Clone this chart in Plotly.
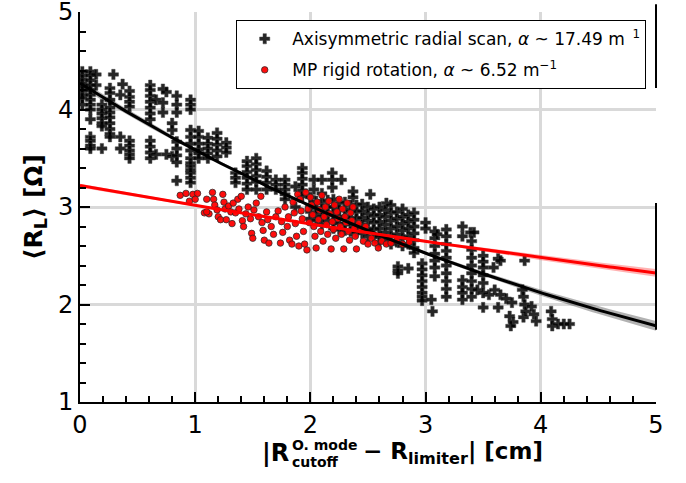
import numpy as np
import plotly.graph_objects as go

# Axisymmetric radial scan: points at x < 1 cm
scan_x_a = [0.02]*9 + [0.09]*14 + [0.14]*2 + [0.19]*7 + [0.26]*10 + [0.29] + [0.35]*3 + [0.37] \
    + [0.43]*9 + [0.61]*11 + [0.66]*2 + [0.72]*3 + [0.75]*2 + [0.80]*3 + [0.84]*8 + [0.96]*14
scan_y_a = [4.39, 4.35, 4.31, 4.27, 4.23, 4.19, 4.15, 4.12, 4.05,
            4.39, 4.35, 4.30, 4.25, 4.20, 4.15, 4.10, 4.05, 4.00, 3.90, 3.72, 3.68, 3.63, 3.60,
            4.36, 4.25,
            4.05, 4.00, 3.96, 3.91, 3.86, 3.83, 3.60,
            4.22, 4.17, 4.10, 4.02, 3.97, 3.92, 3.86, 3.80, 3.75, 3.72,
            4.36,
            4.15, 3.72, 3.60,
            4.26,
            4.19, 4.13, 4.08, 4.03, 3.68, 3.63, 3.58, 3.54, 3.50,
            4.25, 4.20, 4.14, 4.08, 4.02, 3.96, 3.90, 3.68, 3.62, 3.56, 3.50,
            4.10, 3.54,
            4.21, 4.07, 3.97,
            4.18, 3.54,
            3.86, 3.79, 3.52,
            4.14, 4.05, 3.97, 3.67, 3.60, 3.53, 3.46, 3.27,
            4.10, 4.05, 4.00, 3.79, 3.72, 3.65, 3.58, 3.50, 3.45, 3.42, 3.38, 3.35, 3.30, 3.25]

# Axisymmetric radial scan: points at 1 <= x < 2 cm
scan_x_b = [1.03]*6 + [1.11]*5 + [1.19]*5 + [1.27]*3 + [1.35]*3 + [1.45]*6 + [1.53]*6 \
    + [1.62]*4 + [1.70]*3 + [1.78]*5 + [1.87]*2 + [1.93]*6
scan_y_b = [3.78, 3.72, 3.65, 3.59, 3.55, 3.50,
            3.71, 3.65, 3.60, 3.55, 3.50,
            3.76, 3.70, 3.64, 3.58, 3.52,
            3.66, 3.61, 3.56,
            3.35, 3.30, 3.25,
            3.47, 3.42, 3.36, 3.30, 3.24, 3.18,
            3.50, 3.44, 3.38, 3.32, 3.26, 3.18,
            3.37, 3.31, 3.25, 3.18,
            3.28, 3.23, 3.18,
            3.28, 3.23, 3.18, 3.13, 3.08,
            3.21, 3.00,
            3.40, 3.35, 3.29, 3.23, 3.17, 3.11]

# Axisymmetric radial scan: points at 2 <= x < 3 cm
scan_x_c = [2.03, 2.03, 2.10, 2.10, 2.19, 2.19, 2.19, 2.27, 2.37, 2.37, 2.52, 2.66] \
    + [2.00]*4 + [2.05]*4 + [2.10]*4 + [2.15]*4 + [2.20]*5 + [2.25]*5 + [2.30]*5 + [2.35]*5 \
    + [2.40]*5 + [2.45]*5 + [2.50]*5 + [2.55]*5 + [2.60]*6 + [2.65]*5 + [2.70]*6 + [2.75]*5 \
    + [2.80]*6 + [2.85]*5 + [2.90]*7 + [2.76]*3 + [2.85] + [2.97]*8
scan_y_c = [3.28, 3.18, 3.28, 3.14, 3.35, 3.28, 3.20, 3.28, 3.16, 3.10, 3.13, 3.04,
            3.10, 3.02, 2.95, 2.88,
            3.06, 2.99, 2.92, 2.86,
            3.05, 2.98, 2.90, 2.82,
            3.07, 3.00, 2.93, 2.86,
            3.08, 3.00, 2.93, 2.85, 2.78,
            3.04, 2.97, 2.90, 2.83, 2.77,
            3.05, 2.98, 2.90, 2.83, 2.76,
            3.02, 2.96, 2.89, 2.82, 2.75,
            3.02, 2.95, 2.88, 2.80, 2.74,
            3.03, 2.96, 2.89, 2.82, 2.73,
            3.00, 2.93, 2.86, 2.78, 2.70,
            2.98, 2.91, 2.84, 2.77, 2.69,
            3.00, 2.92, 2.85, 2.78, 2.70, 2.64,
            2.97, 2.90, 2.82, 2.74, 2.66,
            3.02, 2.94, 2.86, 2.78, 2.70, 2.62,
            2.95, 2.88, 2.80, 2.72, 2.64,
            2.98, 2.90, 2.83, 2.76, 2.68, 2.60,
            2.92, 2.85, 2.78, 2.70, 2.62,
            2.94, 2.87, 2.80, 2.73, 2.66, 2.58, 2.53,
            2.39, 2.35, 2.32,
            2.37,
            2.42, 2.36, 2.30, 2.24, 2.18, 2.12, 2.08, 2.04]

# Axisymmetric radial scan: points at x >= 3 cm
scan_x_d = [3.00, 3.00, 3.05, 3.06] + [3.08]*7 + [3.10] + [3.18]*10 + [3.32]*6 + [3.39, 3.42] \
    + [3.40]*8 + [3.45, 3.55] + [3.50]*7 \
    + [3.59, 3.60, 3.63, 3.63, 3.65, 3.65, 3.70, 3.75, 3.73, 3.76, 3.74] \
    + [3.84, 3.85, 3.85, 3.86, 3.86, 3.87, 3.92, 3.94, 3.96, 4.09, 4.10, 4.10, 4.15, 4.20, 4.25]
scan_y_d = [2.84, 2.78, 2.05, 1.93,
            2.75, 2.68, 2.60, 2.52, 2.45, 2.38, 2.29,
            2.72,
            2.77, 2.70, 2.62, 2.55, 2.48, 2.40, 2.32, 2.24, 2.16, 2.08,
            2.80, 2.70, 2.25, 2.18, 2.12, 2.05,
            2.74, 2.74,
            2.65, 2.56, 2.48, 2.40, 2.32, 2.24, 2.16, 2.08,
            2.15, 2.10,
            2.50, 2.44, 2.38, 2.30, 2.22, 2.12, 1.97,
            2.38, 2.15, 2.47, 1.97, 2.45, 2.10, 2.06, 2.02, 1.88, 1.82, 1.78,
            2.15, 2.08, 1.87, 2.45, 2.00, 1.93, 1.98, 1.90, 1.83, 1.93, 1.85, 1.78, 1.80, 1.80, 1.80]

# MP rigid rotation points
rot_x_a = [0.87, 0.92, 0.95, 0.98, 1.02, 1.00, 1.08, 1.10, 1.12, 1.10, 1.15, 1.16, 1.17, 1.19,
           1.20, 1.22, 1.24, 1.25, 1.26, 1.27, 1.29, 1.31, 1.32, 1.33, 1.35,
           1.37, 1.38, 1.40, 1.41, 1.42, 1.44, 1.46, 1.48, 1.49, 1.50, 1.51, 1.53, 1.55, 1.57,
           1.58, 1.59, 1.60, 1.62, 1.63, 1.64, 1.66, 1.68, 1.70]
rot_y_a = [3.12, 3.14, 3.06, 3.13, 3.14, 3.08, 2.94, 3.08, 2.93, 2.95, 3.15, 3.08, 3.02, 2.97,
           2.90, 2.87, 3.13, 3.05, 2.98, 2.87, 3.01, 2.95, 2.83, 3.04, 2.94,
           3.08, 2.98, 3.11, 2.86, 2.80, 2.93, 3.00, 2.88, 2.73, 2.68, 2.97, 3.04, 2.90, 3.11,
           2.84, 2.76, 2.66, 2.95, 2.87, 2.63, 2.80, 2.72, 2.90]
rot_x_b = [1.72, 1.74, 1.75, 1.76, 1.78, 1.80, 1.81, 1.82, 1.84, 1.85, 1.86, 1.87, 1.88, 1.89,
           1.90, 1.91, 1.92, 1.93, 1.94, 1.95, 1.96, 1.97, 1.98, 1.99,
           2.00, 2.01, 2.02, 2.03, 2.04, 2.05, 2.06, 2.07, 2.08, 2.09, 2.10, 2.11, 2.12, 2.13,
           2.14, 2.15, 2.16, 2.17, 2.18, 2.19, 2.20, 2.21, 2.22, 2.23, 2.24]
rot_y_b = [2.96, 2.63, 2.85, 2.74, 3.00, 2.80, 2.90, 2.66, 2.62, 3.05, 2.94, 2.83, 2.70, 3.13,
           2.60, 3.08, 2.96, 2.88, 2.75, 2.62, 3.15, 2.56, 2.98, 2.84,
           3.10, 3.02, 2.92, 2.80, 2.70, 2.58, 3.05, 2.87, 2.97, 2.75, 3.12, 2.65, 2.90, 3.00,
           2.82, 2.72, 3.06, 2.93, 2.57, 2.85, 2.77, 3.02, 2.68, 2.95, 2.88]
rot_x_c = [2.25, 2.26, 2.27, 2.28, 2.29, 2.30, 2.31, 2.32, 2.33, 2.34, 2.35, 2.36, 2.37, 2.38,
           2.39, 2.40, 2.42, 2.44, 2.46, 2.48, 2.50, 2.53, 2.56, 2.59, 2.62, 2.66, 2.70, 2.75,
           2.80, 2.86]
rot_y_c = [3.08, 2.80, 2.72, 2.98, 2.57, 2.90, 2.84, 3.04, 2.75, 2.66, 2.94, 2.86, 3.00, 2.78,
           2.70, 2.57, 2.83, 2.76, 2.65, 2.80, 2.62, 2.68, 2.63, 2.58, 2.65, 2.62, 2.63, 2.66,
           2.62, 2.64]

# Exponential fits R = A * exp(-alpha * d), d in metres
scan_amp, scan_alpha = 4.27, 17.49
rot_amp, rot_alpha = 3.22, 6.52
# Confidence band half-widths of the fits
band_x = [0, 1, 2, 3, 4, 5]
scan_band = [0.035, 0.02, 0.012, 0.015, 0.03, 0.05]
rot_band = [0.02, 0.012, 0.008, 0.012, 0.025, 0.04]

FONT = "DejaVu Sans"

scan_x = scan_x_a + scan_x_b + scan_x_c + scan_x_d
scan_y = scan_y_a + scan_y_b + scan_y_c + scan_y_d
rot_x = rot_x_a + rot_x_b + rot_x_c
rot_y = rot_y_a + rot_y_b + rot_y_c

xf = np.linspace(0, 5, 201)
scan_fit = scan_amp * np.exp(-scan_alpha * xf / 100)
rot_fit = rot_amp * np.exp(-rot_alpha * xf / 100)
scan_hw = np.interp(xf, band_x, scan_band)
rot_hw = np.interp(xf, band_x, rot_band)

fig = go.Figure()

fig.add_trace(go.Scatter(
    x=scan_x, y=scan_y, mode="markers", legendgroup="scan",
    name="Axisymmetric radial scan, <i>α</i> ~ 17.49 m<sup>\u00a0\u00a01</sup>",
    marker=dict(symbol="cross", size=8.5, color="rgba(0,0,0,0.85)",
                line=dict(color="rgba(70,70,70,0.6)", width=0.8)),
))
fig.add_trace(go.Scatter(
    x=rot_x, y=rot_y, mode="markers", legendgroup="rot",
    name="MP rigid rotation, <i>α</i> ~ 6.52 m<sup>−1</sup>",
    marker=dict(symbol="circle", size=6.5, color="rgba(255,0,0,0.95)",
                line=dict(color="rgba(40,40,40,0.75)", width=1)),
))

for fit, hw, fill, col in [(scan_fit, scan_hw, "rgba(0,0,0,0.3)", "black"),
                           (rot_fit, rot_hw, "rgba(255,0,0,0.3)", "red")]:
    fig.add_trace(go.Scatter(x=np.concatenate([xf, xf[::-1]]),
                             y=np.concatenate([fit + hw, (fit - hw)[::-1]]),
                             fill="toself", fillcolor=fill, line=dict(width=0),
                             mode="lines", hoverinfo="skip", showlegend=False))
    fig.add_trace(go.Scatter(x=xf, y=fit, mode="lines", line=dict(color=col, width=3),
                             showlegend=False))

# right frame pieces
shapes = []
for y0, y1 in [(0.805, 1.02), (0.185, 0.51)]:
    shapes.append(dict(type="line", xref="paper", yref="paper", x0=1, x1=1, y0=y0, y1=y1,
                       line=dict(color="black", width=2)))

fig.update_layout(
    width=686, height=483,
    margin=dict(l=80, r=30, t=12, b=81),
    plot_bgcolor="white", paper_bgcolor="white",
    font=dict(family=FONT, color="black"),
    legend=dict(x=0.983, xanchor="right", y=0.979, yanchor="top",
                bgcolor="white", bordercolor="black", borderwidth=1,
                font=dict(family=FONT, size=17), tracegroupgap=6, itemwidth=45),
    shapes=shapes,
    showlegend=True,
)

fig.update_xaxes(range=[0, 5.0005], dtick=1, ticks="inside", ticklen=10, tickwidth=2,
                 tickcolor="black", showline=True, linecolor="black", linewidth=2,
                 gridcolor="#d9d9d9", gridwidth=2.5,
                 tickfont=dict(family=FONT, size=24, color="black"),
                 minor=dict(dtick=0.2, ticks="inside", ticklen=6, tickcolor="black",
                            tickwidth=1.5))
fig.update_yaxes(range=[1, 5.0005], dtick=1, ticks="inside", ticklen=10, tickwidth=2,
                 tickcolor="black", showline=True, linecolor="black", linewidth=2,
                 gridcolor="#d9d9d9", gridwidth=2.5, automargin=False,
                 ticklabeloverflow="allow",
                 tickfont=dict(family=FONT, size=24, color="black"),
                 minor=dict(dtick=0.2, ticks="inside", ticklen=6, tickcolor="black",
                            tickwidth=1.5),
                 title=dict(text="<b>⟨R<sub>L</sub>⟩ [Ω]</b>", standoff=8,
                            font=dict(family=FONT, size=25)))

# x-axis title with stacked super/subscript
def px_x(p):
    return (p - 80) / 576

def px_y(p):
    return (402 - p) / 390

title_parts = [
    ("<b>|R</b>", 24, 290, 453, "right"),
    ("<b>O. mode</b>", 14, 291, 445, "left"),
    ("<b>cutoff</b>", 14, 291, 462, "left"),
    ("<b>− R<sub>limiter</sub>| [cm]</b>", 23, 362, 453, "left"),
]
for txt, size, xp, yp, anchor in title_parts:
    fig.add_annotation(text=txt, xref="paper", yref="paper", x=px_x(xp), y=px_y(yp),
                       xanchor=anchor, yanchor="middle", showarrow=False,
                       font=dict(family=FONT, size=size, color="black"), borderpad=0)

fig.write_html("out.html")
